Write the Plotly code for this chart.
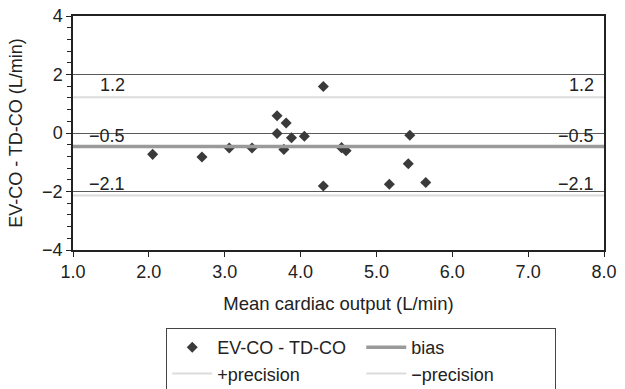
import plotly.graph_objects as go

# Bland-Altman data: mean cardiac output vs. difference between methods
mean_co = [2.05, 2.70, 3.06, 3.36, 3.69, 3.69, 3.81, 3.78, 3.88, 4.05,
           4.30, 4.30, 4.54, 4.60, 5.44, 5.42, 5.17, 5.65]
diff_co = [-0.73, -0.82, -0.51, -0.51, 0.59, -0.02, 0.34, -0.56, -0.16, -0.11,
           1.59, -1.81, -0.50, -0.61, -0.08, -1.05, -1.75, -1.69]

bias = -0.46
upper_precision = 1.22
lower_precision = -2.14

x_range = [1.0, 8.0]
y_range = [-4, 4]
y_tickvals = [-4, -2, 0, 2, 4]
x_tickvals = [1, 2, 3, 4, 5, 6, 7, 8]

FONT = "Liberation Sans, Arial, sans-serif"
TEXT = "#222"


def fmt(v):
    return f"{v:.1f}".replace("-", "\u2212")


fig = go.Figure()

fig.add_trace(go.Scatter(
    x=mean_co, y=diff_co, mode="markers", name="EV-CO - TD-CO",
    marker=dict(symbol="diamond", size=8.5, color="#3a3a3a"),
))
fig.add_trace(go.Scatter(
    x=x_range, y=[bias, bias], mode="lines", name="bias",
    line=dict(color="#9a9a9a", width=3.5),
))
fig.add_trace(go.Scatter(
    x=x_range, y=[upper_precision, upper_precision], mode="lines",
    name="+precision", line=dict(color="#dcdcdc", width=2),
))
fig.add_trace(go.Scatter(
    x=x_range, y=[lower_precision, lower_precision], mode="lines",
    name="\u2212precision", line=dict(color="#dcdcdc", width=2),
))

# value labels at both ends of the bias / precision lines
for val, shift in [(upper_precision, 0), (bias, -2), (lower_precision, 0)]:
    for xv in (1.71, 7.9):
        fig.add_annotation(
            x=xv, y=val, text=fmt(val), showarrow=False,
            xanchor="right", yanchor="bottom", yshift=shift,
            font=dict(family=FONT, size=18, color=TEXT),
        )

fig.update_xaxes(
    range=x_range, tickvals=x_tickvals, tickformat=".1f",
    showline=True, linecolor=TEXT, linewidth=1.5, mirror=True,
    ticks="outside", ticklen=5, tickcolor=TEXT,
    showgrid=False, zeroline=False, automargin=False,
    title=dict(text="Mean cardiac output (L/min)", standoff=16,
               font=dict(family=FONT, size=18.5, color=TEXT)),
    tickfont=dict(family=FONT, size=18, color=TEXT),
)
fig.update_yaxes(
    range=y_range, tickvals=y_tickvals,
    showline=True, linecolor=TEXT, linewidth=1.5, mirror=True,
    ticks="outside", ticklen=5, tickcolor=TEXT,
    minor=dict(dtick=0.4, tick0=0, ticks="outside", ticklen=4,
               tickcolor=TEXT, showgrid=False),
    showgrid=True, gridcolor="#5a5a5a", gridwidth=1, zeroline=False,
    automargin=False,
    title=dict(text="EV-CO - TD-CO (L/min)", standoff=15,
               font=dict(family=FONT, size=18, color=TEXT)),
    tickfont=dict(family=FONT, size=18, color=TEXT),
)

fig.update_layout(
    width=625, height=389,
    margin=dict(l=73, r=21, t=16, b=139),
    plot_bgcolor="white", paper_bgcolor="white",
    font=dict(family=FONT, size=18, color=TEXT),
    legend=dict(
        orientation="h", xref="container", yref="container",
        x=0.266, y=1 - 328 / 389, xanchor="left", yanchor="top",
        entrywidth=139, entrywidthmode="pixels",
        bordercolor="#444", borderwidth=1, bgcolor="white",
        font=dict(family=FONT, size=18, color=TEXT),
        tracegroupgap=0, itemwidth=40,
    ),
)

fig.write_html("out.html")
